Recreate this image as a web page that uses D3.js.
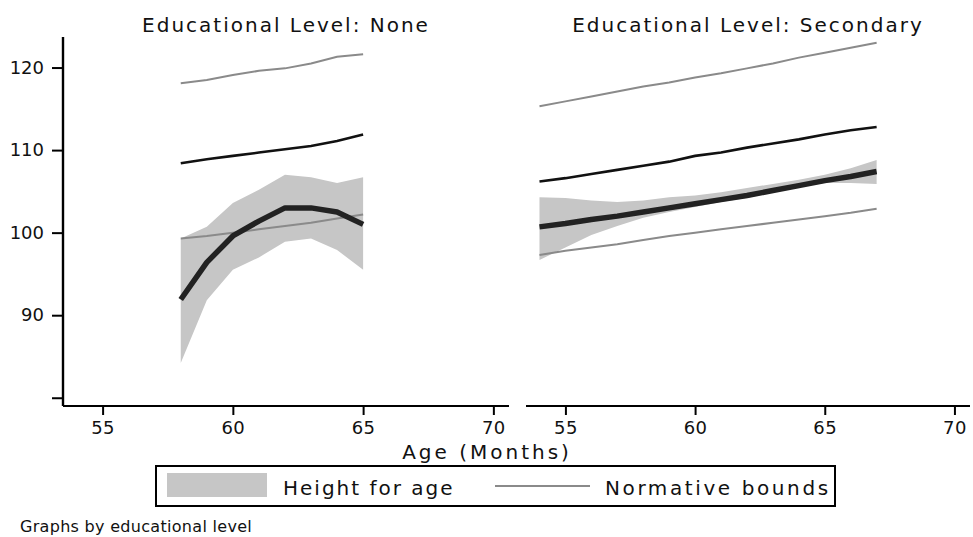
<!DOCTYPE html>
<html>
<head>
<meta charset="utf-8">
<script src="https://cdn.jsdelivr.net/npm/d3@7"></script>
<style>
  body { margin: 0; background: #fff; }
  svg { display: block; font-family: "DejaVu Sans", Verdana, sans-serif; }
</style>
</head>
<body>
<svg id="chart" width="973" height="537"></svg>
<script>
// months
const monthsNone = [58, 59, 60, 61, 62, 63, 64, 65];
const monthsSec = [54, 55, 56, 57, 58, 59, 60, 61, 62, 63, 64, 65, 66, 67];

// Educational level: None
const hfaNone = [91.9, 96.4, 99.6, 101.4, 103.0, 103.0, 102.5, 101.0];
const hfaNoneLo = [84.2, 91.8, 95.5, 97.0, 98.9, 99.3, 97.9, 95.5];
const hfaNoneHi = [99.3, 100.7, 103.6, 105.2, 107.0, 106.7, 106.0, 106.7];
const normNoneLo = [99.3, 99.6, 100.0, 100.4, 100.8, 101.2, 101.7, 102.2];
const normNoneMid = [108.4, 108.9, 109.3, 109.7, 110.1, 110.5, 111.1, 111.9];
const normNoneHi = [118.1, 118.5, 119.1, 119.6, 119.9, 120.5, 121.3, 121.6];

// Educational level: Secondary
const hfaSec = [100.7, 101.1, 101.6, 102.0, 102.5, 103.0, 103.5, 104.0, 104.5, 105.1, 105.7, 106.3, 106.8, 107.4];
const hfaSecLo = [96.7, 98.2, 99.7, 100.8, 101.8, 102.5, 103.1, 103.7, 104.2, 104.9, 105.5, 106.0, 106.0, 105.9];
const hfaSecHi = [104.3, 104.2, 103.9, 103.7, 103.9, 104.3, 104.5, 104.9, 105.4, 105.9, 106.4, 107.0, 107.8, 108.8];
const normSecLo = [97.3, 97.8, 98.2, 98.6, 99.1, 99.6, 100.0, 100.4, 100.8, 101.2, 101.6, 102.0, 102.4, 102.9];
const normSecMid = [106.2, 106.6, 107.1, 107.6, 108.1, 108.6, 109.3, 109.7, 110.3, 110.8, 111.3, 111.9, 112.4, 112.8];
const normSecHi = [115.3, 115.9, 116.5, 117.1, 117.7, 118.2, 118.8, 119.3, 119.9, 120.5, 121.2, 121.8, 122.4, 123.0];

const xTicks = [55, 60, 65, 70];
const yTicks = [80, 90, 100, 110, 120];
const yLabels = [90, 100, 110, 120];

const panels = [
  { title: "Educational Level: None", months: monthsNone, hfa: hfaNone, lo: hfaNoneLo, hi: hfaNoneHi,
    nLo: normNoneLo, nMid: normNoneMid, nHi: normNoneHi, x0: 63, x1: 509 },
  { title: "Educational Level: Secondary", months: monthsSec, hfa: hfaSec, lo: hfaSecLo, hi: hfaSecHi,
    nLo: normSecLo, nMid: normSecMid, nHi: normSecHi, x0: 526, x1: 970 }
];

const svg = d3.select("#chart");
const plotTop = 37, plotBottom = 406;
const ink = "#111";

const y = d3.scaleLinear().domain([79.0, 123.7]).range([plotBottom, plotTop]);

panels.forEach((p, i) => {
  const x = d3.scaleLinear().domain([53.48, 70.6]).range([p.x0, p.x1]);
  const g = svg.append("g");

  const area = d3.area()
    .x((d, j) => x(p.months[j]))
    .y0((d, j) => y(p.lo[j]))
    .y1((d, j) => y(p.hi[j]));

  g.append("path").datum(p.hfa)
    .attr("d", area)
    .attr("fill", "#c6c6c6");

  const line = d3.line().x((d, j) => x(p.months[j])).y(d => y(d));

  g.append("path").datum(p.nLo).attr("d", line)
    .attr("fill", "none").attr("stroke", "#8a8a8a").attr("stroke-width", 2);
  g.append("path").datum(p.nHi).attr("d", line)
    .attr("fill", "none").attr("stroke", "#8a8a8a").attr("stroke-width", 2);
  g.append("path").datum(p.nMid).attr("d", line)
    .attr("fill", "none").attr("stroke", "#111").attr("stroke-width", 2.6);
  g.append("path").datum(p.hfa).attr("d", line)
    .attr("fill", "none").attr("stroke", "#222").attr("stroke-width", 5.5)
    .attr("stroke-linejoin", "round");

  // x axis
  const xAxis = g.append("g")
    .attr("transform", `translate(0,${plotBottom})`)
    .call(d3.axisBottom(x).tickValues(xTicks).tickSize(9).tickPadding(6));
  xAxis.select(".domain").attr("stroke", "#000").attr("stroke-width", 2.2)
    .attr("d", `M${p.x0},0H${p.x1}`);
  xAxis.selectAll(".tick line").attr("stroke-width", 2);
  xAxis.selectAll("text").attr("font-size", 18).attr("fill", ink)
    .attr("font-family", "DejaVu Sans").attr("letter-spacing", 0.5);

  // title
  svg.append("text")
    .attr("x", (p.x0 + p.x1) / 2).attr("y", 32)
    .attr("text-anchor", "middle")
    .attr("font-size", 20).attr("letter-spacing", 2).attr("fill", ink)
    .text(p.title);

  if (i === 0) {
    const yAxis = g.append("g")
      .attr("transform", `translate(${p.x0},0)`)
      .call(d3.axisLeft(y).tickValues(yTicks).tickSize(11).tickFormat(""));
    yAxis.select(".domain").attr("stroke-width", 2.4).attr("d", `M0,${plotTop}V${plotBottom}`);
    yAxis.selectAll(".tick line").attr("stroke-width", 2);

    g.selectAll(".ylab").data(yLabels).enter().append("text")
      .attr("class", "ylab")
      .attr("x", 44).attr("y", d => y(d))
      .attr("dy", "0.35em")
      .attr("text-anchor", "end")
      .attr("font-size", 18).attr("fill", ink)
      .text(d => d);
  }
});

// x axis title
svg.append("text")
  .attr("x", 487).attr("y", 459)
  .attr("text-anchor", "middle")
  .attr("font-size", 20).attr("letter-spacing", 3).attr("fill", ink)
  .text("Age (Months)");

// legend
const lg = svg.append("g");
lg.append("rect").attr("x", 156).attr("y", 466).attr("width", 679).attr("height", 40)
  .attr("fill", "#fff").attr("stroke", "#000").attr("stroke-width", 2);
lg.append("rect").attr("x", 167).attr("y", 473).attr("width", 100).attr("height", 24)
  .attr("fill", "#c6c6c6");
lg.append("text").attr("x", 283).attr("y", 495).attr("font-size", 20)
  .attr("letter-spacing", 2).attr("fill", ink)
  .text("Height for age");
lg.append("line").attr("x1", 495).attr("x2", 590).attr("y1", 486).attr("y2", 486)
  .attr("stroke", "#8a8a8a").attr("stroke-width", 2);
lg.append("text").attr("x", 605).attr("y", 495).attr("font-size", 20)
  .attr("letter-spacing", 2.6).attr("fill", ink)
  .text("Normative bounds");

svg.append("text").attr("x", 20).attr("y", 532).attr("font-size", 16)
  .attr("letter-spacing", 0.3).attr("fill", ink)
  .text("Graphs by educational level");
</script>
</body>
</html>
